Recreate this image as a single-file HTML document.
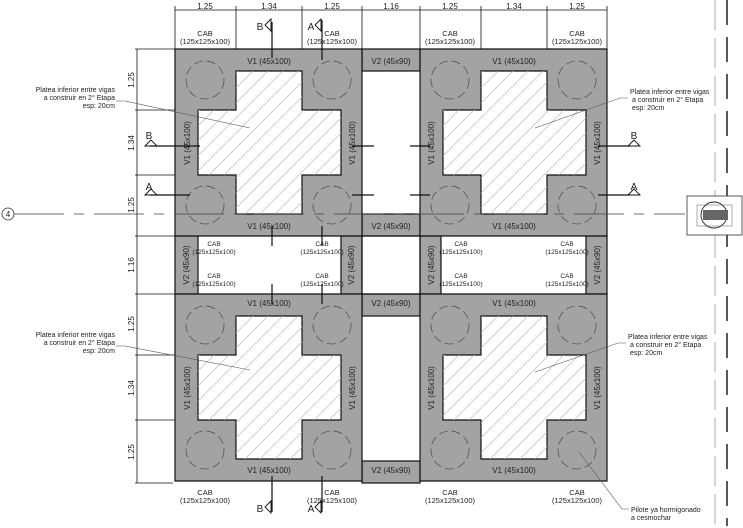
<!DOCTYPE html>
<html><head><meta charset="utf-8"><style>
html,body{margin:0;padding:0;background:#fff;width:743px;height:528px;overflow:hidden;}
svg{display:block;position:absolute;left:0;top:0;font-family:"Liberation Sans",sans-serif;}
text{fill:#222;}
</style></head><body>
<svg width="743" height="528" viewBox="0 0 743 528" xmlns="http://www.w3.org/2000/svg" overflow="hidden">
<defs>
<clipPath id="cc"><path d="M61,22H127V61H166V126H127V165H61V126H23V61H61Z"/></clipPath>
<g id="blk">
<path d="M0,0H187V187H0Z M61,22H127V61H166V126H127V165H61V126H23V61H61Z" fill="#a3a3a3" fill-rule="evenodd" stroke="#111" stroke-width="1.2"/>
<g clip-path="url(#cc)" stroke="#bbb" stroke-width="0.7">
<path d="M0,40L40,0M0,55L55,0M0,70L70,0M0,85L85,0M0,100L100,0M0,115L115,0M0,130L130,0M0,145L145,0M0,160L160,0M0,175L175,0M3,187L187,3M18,187L187,18M33,187L187,33M48,187L187,48M63,187L187,63M78,187L187,78M93,187L187,93M108,187L187,108M123,187L187,123M138,187L187,138"/>
</g>
<g fill="none" stroke="#555" stroke-width="0.8" stroke-dasharray="9,4">
<circle cx="30" cy="31" r="19"/><circle cx="157" cy="31" r="19"/><circle cx="30" cy="156" r="19"/><circle cx="157" cy="156" r="19"/>
</g>
</g>
</defs>
<g fill="#a3a3a3" stroke="#111" stroke-width="1.2">
<rect x="362" y="49" width="58" height="22"/><rect x="362" y="214" width="58" height="22"/>
<rect x="362" y="294" width="58" height="22"/><rect x="362" y="461" width="58" height="22"/>
<rect x="175" y="236" width="23" height="58"/><rect x="341" y="236" width="21" height="58"/>
<rect x="420" y="236" width="21" height="58"/><rect x="586" y="236" width="21" height="58"/>
</g>
<rect x="362" y="236" width="58" height="58" fill="none" stroke="#111" stroke-width="1.2"/>
<use href="#blk" x="175" y="49"/><use href="#blk" x="420" y="49"/>
<use href="#blk" x="175" y="294"/><use href="#blk" x="420" y="294"/>
<g stroke="#111" stroke-width="0.8">
<line x1="175" y1="10" x2="607" y2="10"/>
<line x1="175" y1="6" x2="175" y2="49"/><line x1="236" y1="6" x2="236" y2="49"/><line x1="302" y1="6" x2="302" y2="49"/><line x1="362" y1="6" x2="362" y2="49"/><line x1="420" y1="6" x2="420" y2="49"/><line x1="481" y1="6" x2="481" y2="49"/><line x1="547" y1="6" x2="547" y2="49"/><line x1="607" y1="6" x2="607" y2="49"/>
<line x1="137" y1="49" x2="137" y2="483"/>
<line x1="135" y1="49" x2="175" y2="49"/><line x1="135" y1="110" x2="175" y2="110"/><line x1="135" y1="175" x2="175" y2="175"/><line x1="135" y1="236" x2="607" y2="236"/><line x1="135" y1="294" x2="607" y2="294"/><line x1="135" y1="355" x2="175" y2="355"/><line x1="135" y1="420" x2="175" y2="420"/><line x1="135" y1="483" x2="173" y2="483"/>
</g>
<g font-size="8" text-anchor="middle">
<text x="205" y="9">1.25</text><text x="269" y="9">1.34</text><text x="332" y="9">1.25</text><text x="391" y="9">1.16</text><text x="450" y="9">1.25</text><text x="514" y="9">1.34</text><text x="577" y="9">1.25</text>
<text transform="translate(134,80) rotate(-90)">1.25</text><text transform="translate(134,143) rotate(-90)">1.34</text><text transform="translate(134,205) rotate(-90)">1.25</text><text transform="translate(134,265) rotate(-90)">1.16</text><text transform="translate(134,324) rotate(-90)">1.25</text><text transform="translate(134,388) rotate(-90)">1.34</text><text transform="translate(134,452) rotate(-90)">1.25</text>
</g>
<g font-size="7.5" text-anchor="middle">
<text x="205" y="36">CAB</text><text x="205" y="44">(125x125x100)</text>
<text x="332" y="36">CAB</text><text x="332" y="44">(125x125x100)</text>
<text x="450" y="36">CAB</text><text x="450" y="44">(125x125x100)</text>
<text x="577" y="36">CAB</text><text x="577" y="44">(125x125x100)</text>
<text x="205" y="495">CAB</text><text x="205" y="503">(125x125x100)</text>
<text x="332" y="495">CAB</text><text x="332" y="503">(125x125x100)</text>
<text x="450" y="495">CAB</text><text x="450" y="503">(125x125x100)</text>
<text x="577" y="495">CAB</text><text x="577" y="503">(125x125x100)</text>
</g>
<g font-size="6.5" text-anchor="middle">
<text x="214" y="246">CAB</text><text x="214" y="254">(125x125x100)</text>
<text x="322" y="246">CAB</text><text x="322" y="254">(125x125x100)</text>
<text x="214" y="278">CAB</text><text x="214" y="286">(125x125x100)</text>
<text x="322" y="278">CAB</text><text x="322" y="286">(125x125x100)</text>
<text x="461" y="246">CAB</text><text x="461" y="254">(125x125x100)</text>
<text x="567" y="246">CAB</text><text x="567" y="254">(125x125x100)</text>
<text x="461" y="278">CAB</text><text x="461" y="286">(125x125x100)</text>
<text x="567" y="278">CAB</text><text x="567" y="286">(125x125x100)</text>
</g>
<g font-size="8" text-anchor="middle">
<text x="269" y="64">V1 (45x100)</text><text x="514" y="64">V1 (45x100)</text>
<text x="269" y="229">V1 (45x100)</text><text x="514" y="229">V1 (45x100)</text>
<text x="269" y="306">V1 (45x100)</text><text x="514" y="306">V1 (45x100)</text>
<text x="269" y="473">V1 (45x100)</text><text x="514" y="473">V1 (45x100)</text>
<text x="391" y="64">V2 (45x90)</text><text x="391" y="229">V2 (45x90)</text>
<text x="391" y="306">V2 (45x90)</text><text x="391" y="473">V2 (45x90)</text>
<text transform="translate(190,143) rotate(-90)">V1 (45x100)</text><text transform="translate(355,143) rotate(-90)">V1 (45x100)</text>
<text transform="translate(434,143) rotate(-90)">V1 (45x100)</text><text transform="translate(600,143) rotate(-90)">V1 (45x100)</text>
<text transform="translate(190,388) rotate(-90)">V1 (45x100)</text><text transform="translate(355,388) rotate(-90)">V1 (45x100)</text>
<text transform="translate(434,388) rotate(-90)">V1 (45x100)</text><text transform="translate(600,388) rotate(-90)">V1 (45x100)</text>
<text transform="translate(189,265) rotate(-90)">V2 (45x90)</text><text transform="translate(354,265) rotate(-90)">V2 (45x90)</text>
<text transform="translate(434,265) rotate(-90)">V2 (45x90)</text><text transform="translate(600,265) rotate(-90)">V2 (45x90)</text>
</g>
<g stroke="#111" stroke-width="1.2">
<line x1="272" y1="22" x2="272" y2="58"/><line x1="322" y1="20" x2="322" y2="60"/>
<line x1="272" y1="226" x2="272" y2="246"/><line x1="322" y1="226" x2="322" y2="246"/>
<line x1="272" y1="284" x2="272" y2="304"/><line x1="322" y1="284" x2="322" y2="304"/>
<line x1="272" y1="476" x2="272" y2="512"/><line x1="322" y1="476" x2="322" y2="512"/>
<line x1="150" y1="146" x2="200" y2="146"/><line x1="150" y1="195" x2="190" y2="195"/>
<line x1="352" y1="146" x2="374" y2="146"/><line x1="352" y1="195" x2="374" y2="195"/>
<line x1="410" y1="146" x2="430" y2="146"/><line x1="410" y1="195" x2="430" y2="195"/>
<line x1="598" y1="146" x2="630" y2="146"/><line x1="598" y1="195" x2="630" y2="195"/>
</g>
<g font-size="10" text-anchor="middle">
<text x="260" y="30">B</text><text x="311" y="30">A</text>
<text x="260" y="512">B</text><text x="311" y="512">A</text>
<text x="149" y="139">B</text><text x="149" y="190">A</text>
<text x="634" y="139">B</text><text x="634" y="190">A</text>
</g>
<g fill="none" stroke="#111" stroke-width="0.9">
<path d="M271,19L265,25L271,31Z M321,19L315,25L321,31Z M271,501L265,507L271,513Z M321,501L315,507L321,513Z"/>
<path d="M145,146L151,140L157,146Z M145,195L151,189L157,195Z M628,146L634,140L640,146Z M628,195L634,189L640,195Z"/>
</g>
<circle cx="8" cy="214" r="6" fill="#fff" stroke="#333" stroke-width="0.8"/>
<text x="8" y="217" font-size="8" text-anchor="middle">4</text>
<line x1="14" y1="214" x2="685" y2="214" stroke="#444" stroke-width="0.8" stroke-dasharray="50,10,10,10"/>
<line x1="715" y1="0" x2="715" y2="526" stroke="#999" stroke-width="0.8" stroke-dasharray="30,8"/>
<line x1="727" y1="0" x2="727" y2="526" stroke="#222" stroke-width="1.5" stroke-dasharray="25,12"/>
<rect x="687" y="196" width="55" height="39" fill="#fff" stroke="#333" stroke-width="0.8"/>
<rect x="697" y="205" width="35" height="21" fill="none" stroke="#777" stroke-width="0.6"/>
<circle cx="714" cy="215" r="13" fill="none" stroke="#222" stroke-width="0.9"/>
<rect x="703" y="210" width="25" height="10" fill="#666"/>
<g font-size="7" text-anchor="end">
<text x="115" y="92">Platea inferior entre vigas</text><text x="115" y="100">a construir en 2° Etapa</text><text x="115" y="108">esp: 20cm</text>
<text x="115" y="337">Platea inferior entre vigas</text><text x="115" y="345">a construir en 2° Etapa</text><text x="115" y="353">esp: 20cm</text>
</g>
<g font-size="7">
<text x="630" y="94">Platea inferior entre vigas</text><text x="632" y="102">a construir en 2° Etapa</text><text x="632" y="110">esp: 20cm</text>
<text x="628" y="339">Platea inferior entre vigas</text><text x="630" y="347">a construir en 2° Etapa</text><text x="630" y="355">esp: 20cm</text>
<text x="631" y="512">Pilote ya hormigonado</text><text x="631" y="520">a cesmochar</text>
</g>
<g stroke="#555" stroke-width="0.6" fill="none">
<polyline points="116,101 125,101 250,128"/><polyline points="116,346 125,346 250,370"/>
<polyline points="628,98 620,98 535,128"/><polyline points="626,343 618,343 535,372"/>
<polyline points="629,509 622,509 579,452"/>
</g>
</svg>
</body></html>
